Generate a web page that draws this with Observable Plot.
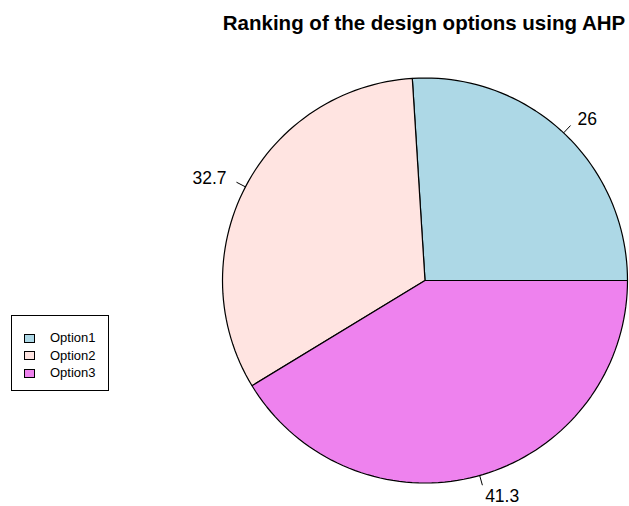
<!DOCTYPE html>
<html>
<head>
<meta charset="utf-8">
<script src="https://cdn.jsdelivr.net/npm/d3@7"></script>
<script src="https://cdn.jsdelivr.net/npm/@observablehq/plot@0.6"></script>
<style>
  html, body { margin: 0; padding: 0; background: #fff; }
  #wrap { position: relative; width: 629px; height: 506px; overflow: hidden; font-family: "Liberation Sans", Arial, sans-serif; }
  #title { position: absolute; left: 424px; top: 12.5px; transform: translateX(-50%); white-space: nowrap;
           font-weight: bold; font-size: 20.5px; line-height: 20.5px; color: #000; }
  #legend { position: absolute; left: 11px; top: 315px; width: 96px; height: 74px; border: 1px solid #000; box-sizing: content-box; }
  .item { position: absolute; left: 0; height: 17px; font-size: 13px; line-height: 17px; color: #000; white-space: nowrap; }
  .sw { position: absolute; left: 12px; top: 4.5px; width: 9px; height: 7px; border: 1px solid #000; }
  .lab { position: absolute; left: 38px; top: 0; }
  #chart { position: absolute; left: 0; top: 0; }
</style>
</head>
<body>
<div id="wrap">
  <div id="chart"></div>
  <div id="title"></div>
  <div id="legend"></div>
</div>
<script>
// ---- data ----
const titleText = "Ranking of the design options using AHP";
const categories = ["Option1", "Option2", "Option3"];
const values = [26, 32.7, 41.3];
const labels = ["26", "32.7", "41.3"];
const colors = ["#ADD8E6", "#FFE4E1", "#EE82EE"];

// ---- build pie geometry like R's pie() (counter-clockwise from 3 o'clock, 200 edges) ----
const total = d3.sum(values);
const cum = [0];
values.forEach(v => cum.push(cum[cum.length - 1] + v / total));
const polys = [];
const ticks = [];
const texts = [];
categories.forEach((c, i) => {
  const t0 = cum[i], t1 = cum[i + 1];
  const n = Math.max(2, Math.floor(200 * (t1 - t0)));
  polys.push({cat: c, x: 0, y: 0});
  for (let k = 0; k < n; k++) {
    const t = t0 + (t1 - t0) * k / (n - 1);
    const a = 2 * Math.PI * t;
    polys.push({cat: c, x: Math.cos(a), y: Math.sin(a)});
  }
  polys.push({cat: c, x: 0, y: 0});
  const am = 2 * Math.PI * (t0 + t1) / 2;
  const cx = Math.cos(am), cy = Math.sin(am);
  ticks.push({x1: cx, y1: cy, x2: 1.05 * cx, y2: 1.05 * cy});
  texts.push({x: 1.1 * cx, y: 1.1 * cy, label: labels[i], anchor: cx < 0 ? "end" : "start"});
});

const chart = Plot.plot({
  width: 629,
  height: 506,
  marginLeft: 222,
  marginRight: 2,
  marginTop: 77.5,
  marginBottom: 23.5,
  x: {domain: [-1, 1], axis: null},
  y: {domain: [-1, 1], axis: null},
  color: {domain: categories, range: colors},
  style: {fontFamily: "'Liberation Sans', Arial, sans-serif", background: "white", overflow: "visible"},
  marks: [
    Plot.line(polys, {x: "x", y: "y", z: "cat", fill: "cat", stroke: "#000", strokeWidth: 1.2,
                      strokeLinejoin: "miter", strokeLinecap: "butt", curve: "linear"}),
    Plot.link(ticks, {x1: "x1", y1: "y1", x2: "x2", y2: "y2", stroke: "#000", strokeWidth: 1}),
    Plot.text(texts.filter(d => d.anchor === "start"), {x: "x", y: "y", text: "label", textAnchor: "start", fontSize: 17.5, dy: 1, fill: "#000"}),
    Plot.text(texts.filter(d => d.anchor === "end"), {x: "x", y: "y", text: "label", textAnchor: "end", fontSize: 17.5, dx: -1, dy: 1, fill: "#000"})
  ]
});
document.getElementById("chart").appendChild(chart);

document.getElementById("title").textContent = titleText;

const legend = document.getElementById("legend");
categories.forEach((c, i) => {
  const item = document.createElement("div");
  item.className = "item";
  item.style.top = (13 + i * 17.5) + "px";
  const sw = document.createElement("div");
  sw.className = "sw";
  sw.style.background = colors[i];
  const lab = document.createElement("span");
  lab.className = "lab";
  lab.textContent = c;
  item.appendChild(sw);
  item.appendChild(lab);
  legend.appendChild(item);
});
</script>
</body>
</html>
